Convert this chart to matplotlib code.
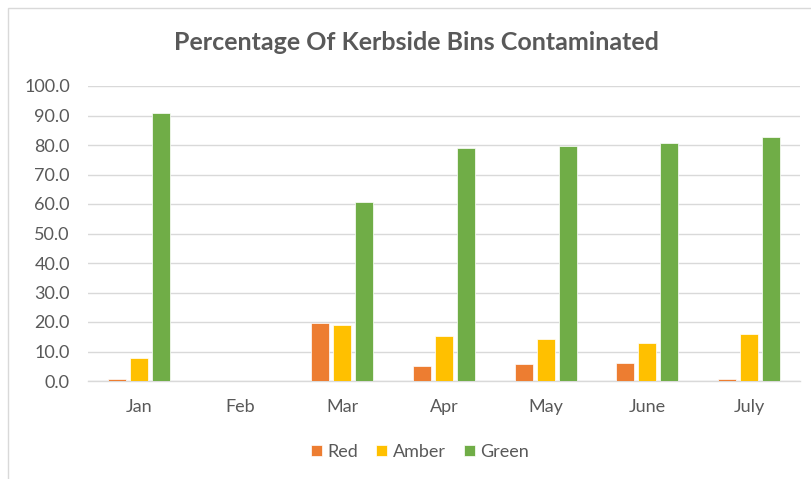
import numpy as np
import matplotlib
matplotlib.use("Agg")
import matplotlib.pyplot as plt
from matplotlib.patches import Rectangle

months = ["Jan", "Feb", "Mar", "Apr", "May", "June", "July"]
red = [0.6, np.nan, 19.7, 5.0, 5.6, 6.1, 0.8]
amber = [7.9, np.nan, 19.1, 15.4, 14.3, 12.9, 15.9]
green = [90.8, np.nan, 60.8, 79.0, 79.5, 80.6, 82.7]

series = [("Red", red, "#ED7D31"), ("Amber", amber, "#FFC000"), ("Green", green, "#70AD47")]
text_col = "#595959"
grid_col = "#D9D9D9"

plt.rcParams["font.family"] = ["Lato", "DejaVu Sans"]

fig = plt.figure(figsize=(8.11, 4.79), dpi=100)
fig.patch.set_facecolor("white")

# chart frame (cropped at right / bottom in the reference)
fig.patches.append(Rectangle((8 / 811, -0.1), 1.2, 1 - 8 / 479 + 0.1,
                             transform=fig.transFigure, fill=False,
                             edgecolor=grid_col, linewidth=1.0))

ax = fig.add_axes([88 / 811, 1 - 381 / 479, 712 / 811, 295 / 479])

x = np.arange(len(months))
width = 0.177
pitch = 0.216
for i, (name, vals, col) in enumerate(series):
    ax.bar(x + (i - 1) * pitch, vals, width, color=col, label=name,
           edgecolor="white", linewidth=0.5, zorder=3)

ax.set_xlim(-0.5, len(months) - 0.5)
ax.set_ylim(0, 100)
ax.set_yticks(np.arange(0, 101, 10))
ax.set_yticklabels([f"{v:.1f}" for v in np.arange(0, 101, 10)])
ax.set_xticks(x)
ax.set_xticklabels(months)
ax.tick_params(axis="both", length=0, labelsize=13, colors=text_col)
ax.tick_params(axis="x", pad=13)
ax.tick_params(axis="y", pad=13)
ax.yaxis.grid(True, color=grid_col, linewidth=1.0, zorder=0)
for s in ["top", "right", "left"]:
    ax.spines[s].set_visible(False)
ax.spines["bottom"].set_color(grid_col)
ax.spines["bottom"].set_linewidth(1.0)

fig.text(416 / 811, 1 - 42 / 479, "Percentage Of Kerbside Bins Contaminated",
         ha="center", va="center", fontsize=18, fontweight="bold", color=text_col)

leg = fig.legend(loc="center", bbox_to_anchor=(420 / 811, 1 - 452 / 479), ncol=3,
                 frameon=False, fontsize=13, handlelength=0.6, handleheight=0.6,
                 handletextpad=0.3, columnspacing=1.0)
for t in leg.get_texts():
    t.set_color(text_col)

fig.savefig("out.png", dpi=100, facecolor="white")
